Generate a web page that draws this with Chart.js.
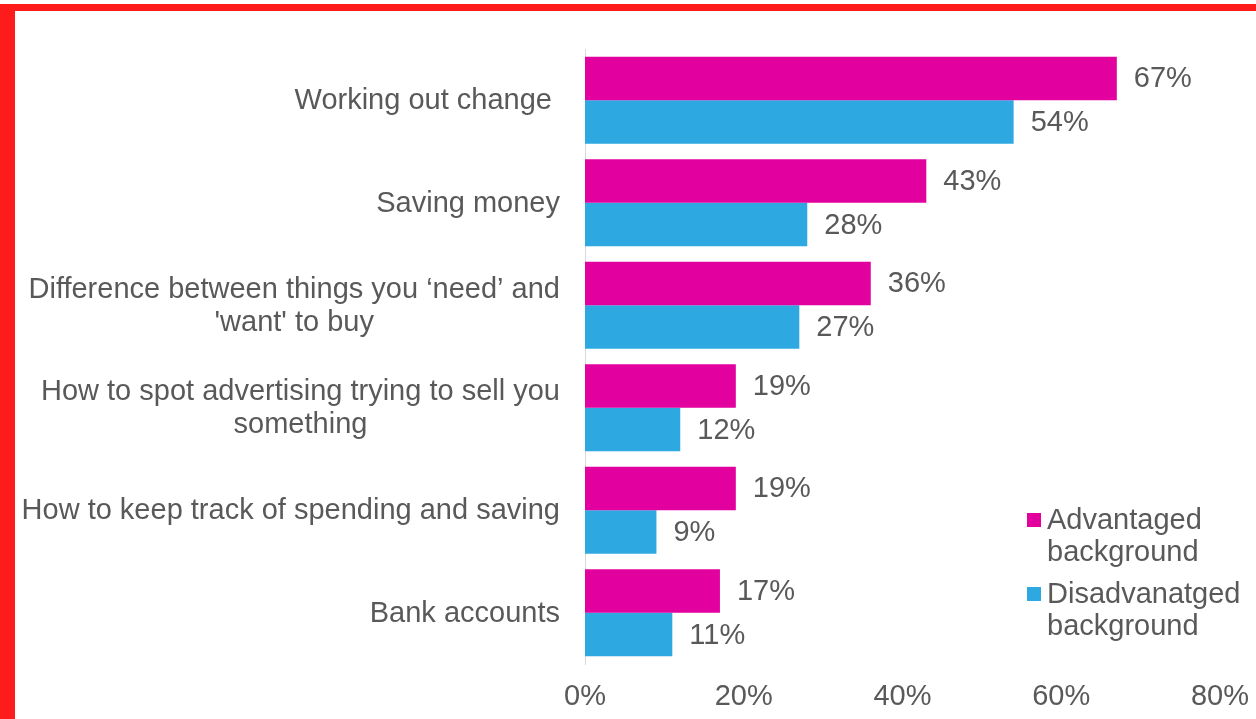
<!DOCTYPE html>
<html>
<head>
<meta charset="utf-8">
<script src="https://cdn.jsdelivr.net/npm/chart.js@4/dist/chart.umd.min.js"></script>
<style>
  html, body { margin: 0; padding: 0; background: #fff; }
  #wrap { position: relative; width: 1256px; height: 719px; overflow: hidden; }
  #frame {
    position: absolute; left: 0; top: 4px; right: 0; bottom: 0;
    border-top: 7px solid #fe1b1b; border-left: 15px solid #fe1b1b;
    pointer-events: none;
  }
  canvas { position: absolute; left: 0; top: 0; }
</style>
</head>
<body>
<div id="wrap">
  <canvas id="myChart" width="1256" height="719"></canvas>
  <div id="frame"></div>
</div>
<script>
const categories = [
  ["Working out change "],
  ["Saving money"],
  ["Difference between things you \u2018need\u2019 and", "'want' to buy"],
  ["How to spot advertising trying to sell you", "something"],
  ["How to keep track of spending and saving"],
  ["Bank accounts"]
]
const advantaged = [67, 43, 36, 19, 19, 17]
const disadvantaged = [54, 28, 27, 12, 9, 11]
const seriesNames = [["Advantaged", "background"], ["Disadvanatged", "background"]]
const seriesColors = ["#e2009e", "#2da8e0"]

const FONT = '"Liberation Sans", Arial, sans-serif'
const FONT_SIZE = 29
const GREY = "#595959"

// category names on the left, multi-line ones centred under their widest line
const categoryLabels = {
  id: "categoryLabels",
  afterDraw(chart) {
    const ctx = chart.ctx
    const y = chart.scales.y
    const right = 560
    const lineH = 33
    ctx.save()
    ctx.font = FONT_SIZE + "px " + FONT
    ctx.fillStyle = GREY
    ctx.textBaseline = "middle"
    chart.data.labels.forEach((lines, i) => {
      const cy = y.getPixelForValue(i) + 1
      const maxW = Math.max(...lines.map((l) => ctx.measureText(l).width))
      lines.forEach((line, j) => {
        const ly = cy + (j - (lines.length - 1) / 2) * lineH
        if (lines.length === 1) {
          ctx.textAlign = "right"
          ctx.fillText(line, right, ly)
        } else {
          ctx.textAlign = "center"
          ctx.fillText(line, right - maxW / 2, ly)
        }
      })
    })
    ctx.restore()
  }
}

// percentage after the end of each bar
const valueLabels = {
  id: "valueLabels",
  afterDatasetsDraw(chart) {
    const ctx = chart.ctx
    ctx.save()
    ctx.font = FONT_SIZE + "px " + FONT
    ctx.fillStyle = GREY
    ctx.textAlign = "left"
    ctx.textBaseline = "middle"
    chart.data.datasets.forEach((ds, di) => {
      chart.getDatasetMeta(di).data.forEach((bar, i) => {
        ctx.fillText(ds.data[i] + "%", bar.x + 17, bar.y + 1)
      })
    })
    ctx.restore()
  }
}

// legend with wrapped series names, bottom right
const sideLegend = {
  id: "sideLegend",
  afterDraw(chart) {
    const ctx = chart.ctx
    const x = 1027
    const tops = [520, 594]
    const lineH = 32
    ctx.save()
    ctx.font = FONT_SIZE + "px " + FONT
    ctx.textAlign = "left"
    ctx.textBaseline = "middle"
    chart.data.datasets.forEach((ds, di) => {
      const ty = tops[di]
      ctx.fillStyle = ds.backgroundColor
      ctx.fillRect(x, ty - 7, 14, 14)
      ctx.fillStyle = GREY
      seriesNames[di].forEach((line, j) => {
        ctx.fillText(line, x + 20, ty + 1 + j * lineH)
      })
    })
    ctx.restore()
  }
}

const ctx = document.getElementById("myChart")

new Chart(ctx, {
  type: "bar",
  data: {
    labels: categories,
    datasets: [
      {
        label: seriesNames[0].join(" "),
        data: advantaged,
        backgroundColor: seriesColors[0]
      },
      {
        label: seriesNames[1].join(" "),
        data: disadvantaged,
        backgroundColor: seriesColors[1]
      }
    ]
  },
  options: {
    indexAxis: "y",
    responsive: false,
    animation: false,
    datasets: {
      bar: { categoryPercentage: 0.85, barPercentage: 1 }
    },
    layout: { padding: { top: 49, right: 36, left: 0, bottom: 0 } },
    plugins: {
      legend: { display: false },
      tooltip: { enabled: false }
    },
    scales: {
      x: {
        min: 0,
        max: 80,
        ticks: {
          stepSize: 20,
          padding: 16,
          color: GREY,
          font: { size: FONT_SIZE, family: FONT },
          callback: (v) => v + "%"
        },
        grid: { display: false, drawTicks: false },
        border: { display: false },
        afterFit: (scale) => {
          scale.height = 55
          // the 80% label may hang past the plot edge
          scale.paddingLeft = 0
          scale.paddingRight = 0
        }
      },
      y: {
        ticks: { display: false },
        grid: { display: false, drawTicks: false },
        border: { display: true, color: "#d9d9d9", width: 1 },
        afterFit: (scale) => { scale.width = 585 }
      }
    }
  },
  plugins: [categoryLabels, valueLabels, sideLegend]
})
</script>
</body>
</html>
